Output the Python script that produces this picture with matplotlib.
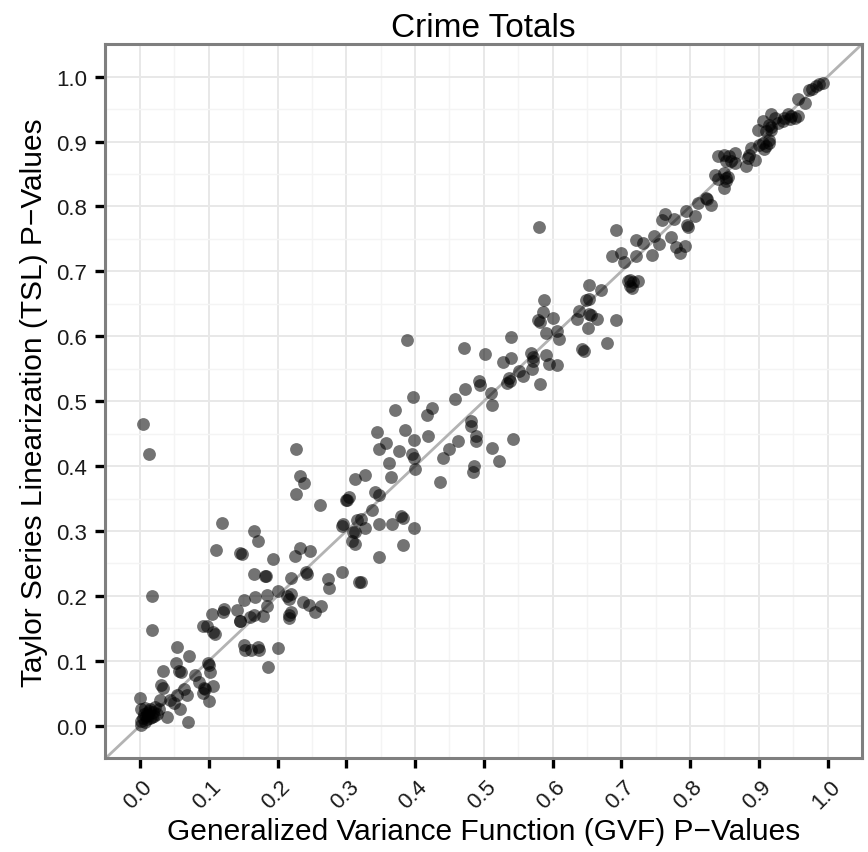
import matplotlib
matplotlib.use("Agg")
import matplotlib.pyplot as plt
import matplotlib.transforms as mtransforms
import numpy as np

plt.rcParams['font.family'] = ['Liberation Sans', 'DejaVu Sans']

# GVF p-values (x) and TSL p-values (y)
gvf = [0.262, 0.300, 0.119, 0.166, 0.171, 0.295, 0.294, 0.110, 0.145, 0.148,
       0.193, 0.232, 0.226, 0.247, 0.309, 0.308, 0.312, 0.316, 0.319, 0.293,
       0.273, 0.275, 0.166, 0.181, 0.183, 0.242, 0.243, 0.219, 0.201, 0.185,
       0.167, 0.151, 0.213, 0.216, 0.220, 0.237, 0.245, 0.263, 0.254, 0.184,
       0.017, 0.018, 0.105, 0.120, 0.122, 0.141, 0.145, 0.146, 0.160, 0.166,
       0.179, 0.091, 0.098, 0.106, 0.109, 0.216, 0.217, 0.220, 0.151, 0.153,
       0.162, 0.171, 0.173, 0.200, 0.186, 0.053, 0.071, 0.052, 0.034, 0.057,
       0.059, 0.099, 0.100, 0.102, 0.080, 0.086, 0.106, 0.093, 0.094, 0.091,
       0.100, 0.030, 0.034, 0.064, 0.068, 0.053, 0.043, 0.049, 0.058, 0.039,
       0.070, 0.029, 0.000, 0.001, 0.007, 0.014, 0.022, 0.024, 0.017, 0.010,
       0.002, 0.001, 0.012, 0.005, 0.019, 0.007, 0.028, 0.010, 0.015, 0.020,
       0.004, 0.013, 0.008, 0.004, 0.013,
       0.388, 0.397, 0.371, 0.424, 0.418, 0.458, 0.345, 0.357, 0.348, 0.386,
       0.398, 0.419, 0.377, 0.395, 0.398, 0.400, 0.450, 0.440, 0.463, 0.436,
       0.362, 0.365, 0.227, 0.233, 0.239, 0.227, 0.313, 0.327, 0.342, 0.348,
       0.301, 0.304, 0.337, 0.322, 0.313, 0.327, 0.348, 0.366, 0.379, 0.383,
       0.399, 0.383, 0.348, 0.322,
       0.580, 0.692, 0.686, 0.700, 0.704, 0.721, 0.722, 0.712, 0.717, 0.716,
       0.671, 0.653, 0.648, 0.653, 0.639, 0.635, 0.653, 0.656, 0.665, 0.651,
       0.692, 0.679, 0.643, 0.645, 0.588, 0.586, 0.579, 0.581, 0.601, 0.591,
       0.607, 0.609, 0.539, 0.471, 0.502, 0.528, 0.540, 0.568, 0.571, 0.572,
       0.590, 0.595, 0.607, 0.570, 0.582, 0.551, 0.557, 0.536, 0.534, 0.538,
       0.510, 0.512, 0.493, 0.494, 0.472, 0.481, 0.481, 0.488, 0.489, 0.485,
       0.484, 0.512, 0.522, 0.543,
       0.732, 0.745, 0.748, 0.755, 0.763, 0.759, 0.772, 0.777, 0.780, 0.785,
       0.792, 0.794, 0.797, 0.795, 0.807, 0.812, 0.823, 0.824, 0.831, 0.837,
       0.840, 0.840, 0.849, 0.853, 0.865, 0.860, 0.865, 0.850, 0.852, 0.850,
       0.853, 0.882, 0.884, 0.894, 0.889, 0.901, 0.906, 0.908, 0.915, 0.899,
       0.911, 0.918, 0.710, 0.725, 0.712,
       0.993, 0.988, 0.983, 0.978, 0.973, 0.957, 0.967, 0.942, 0.947, 0.937,
       0.935, 0.957, 0.952, 0.945, 0.918, 0.923, 0.906, 0.915, 0.918, 0.928,
       0.911, 0.915, 0.886, 0.857, 0.855]

tsl = [0.340, 0.347, 0.313, 0.300, 0.285, 0.311, 0.307, 0.270, 0.266, 0.264,
       0.257, 0.274, 0.262, 0.269, 0.298, 0.284, 0.280, 0.317, 0.221, 0.237,
       0.226, 0.212, 0.234, 0.231, 0.230, 0.237, 0.234, 0.227, 0.207, 0.202,
       0.198, 0.193, 0.200, 0.196, 0.203, 0.190, 0.186, 0.185, 0.175, 0.185,
       0.200, 0.148, 0.172, 0.175, 0.180, 0.178, 0.162, 0.161, 0.167, 0.170,
       0.169, 0.154, 0.153, 0.144, 0.142, 0.170, 0.166, 0.175, 0.124, 0.117,
       0.116, 0.121, 0.117, 0.119, 0.091, 0.122, 0.108, 0.096, 0.085, 0.084,
       0.082, 0.097, 0.093, 0.082, 0.078, 0.068, 0.061, 0.058, 0.056, 0.050,
       0.038, 0.062, 0.058, 0.057, 0.048, 0.047, 0.040, 0.035, 0.025, 0.014,
       0.006, 0.039, 0.043, 0.025, 0.028, 0.026, 0.029, 0.018, 0.013, 0.010,
       0.008, 0.001, 0.017, 0.018, 0.021, 0.005, 0.025, 0.020, 0.012, 0.015,
       0.012, 0.022, 0.015, 0.465, 0.418,
       0.594, 0.507, 0.487, 0.489, 0.478, 0.503, 0.453, 0.436, 0.426, 0.456,
       0.440, 0.446, 0.423, 0.418, 0.413, 0.395, 0.426, 0.412, 0.439, 0.376,
       0.405, 0.383, 0.426, 0.384, 0.374, 0.357, 0.380, 0.386, 0.360, 0.356,
       0.348, 0.352, 0.332, 0.318, 0.299, 0.305, 0.311, 0.311, 0.323, 0.320,
       0.305, 0.279, 0.260, 0.222,
       0.768, 0.764, 0.724, 0.728, 0.715, 0.749, 0.724, 0.687, 0.683, 0.675,
       0.671, 0.679, 0.656, 0.657, 0.639, 0.626, 0.635, 0.633, 0.626, 0.612,
       0.625, 0.590, 0.580, 0.577, 0.656, 0.637, 0.625, 0.622, 0.628, 0.605,
       0.608, 0.596, 0.599, 0.582, 0.572, 0.561, 0.567, 0.574, 0.568, 0.562,
       0.571, 0.557, 0.555, 0.549, 0.526, 0.547, 0.539, 0.535, 0.528, 0.531,
       0.513, 0.494, 0.531, 0.525, 0.519, 0.470, 0.462, 0.447, 0.439, 0.400,
       0.391, 0.428, 0.408, 0.442,
       0.744, 0.726, 0.755, 0.742, 0.789, 0.779, 0.753, 0.781, 0.738, 0.728,
       0.739, 0.793, 0.769, 0.772, 0.785, 0.805, 0.813, 0.811, 0.802, 0.849,
       0.842, 0.878, 0.880, 0.870, 0.882, 0.870, 0.867, 0.852, 0.844, 0.828,
       0.839, 0.862, 0.875, 0.872, 0.890, 0.895, 0.898, 0.888, 0.898, 0.918,
       0.916, 0.918, 0.685, 0.685, 0.677,
       0.990, 0.988, 0.985, 0.981, 0.979, 0.965, 0.960, 0.942, 0.939, 0.937,
       0.931, 0.939, 0.937, 0.934, 0.942, 0.937, 0.931, 0.926, 0.923, 0.929,
       0.893, 0.903, 0.880, 0.877, 0.846]

ticks = np.arange(0, 1.01, 0.1)
tick_labels = ["0.0", "0.1", "0.2", "0.3", "0.4", "0.5", "0.6", "0.7", "0.8", "0.9", "1.0"]

fig = plt.figure(figsize=(8.68, 8.53), dpi=100)
ax = fig.add_axes([0.121, 0.110, 0.872, 0.837])

ax.scatter(gvf, tsl, s=85, c='black', alpha=0.55, linewidths=0, zorder=3)
ax.axline((0, 0), slope=1, color='#b3b3b3', lw=2, zorder=2)

ax.set_xlim(-0.051, 1.046)
ax.set_ylim(-0.049, 1.049)

ax.set_xticks(ticks)
ax.set_xticklabels(tick_labels)
ax.set_yticks(ticks)
ax.set_yticklabels(tick_labels)
ax.set_xticks(np.arange(-0.05, 1.06, 0.1), minor=True)
ax.set_yticks(np.arange(-0.05, 1.06, 0.1), minor=True)

ax.grid(which='major', color='#e8e8e8', lw=1.4, zorder=0)
ax.grid(which='minor', color='#f4f4f4', lw=1.0, zorder=0)
ax.set_axisbelow(True)

ax.tick_params(which='major', length=7, width=2.4, color='black',
               labelsize=16, labelcolor='#1a1a1a')
ax.tick_params(axis='y', pad=6)
ax.tick_params(axis='x', pad=6)
ax.tick_params(which='minor', length=0)

# rotated x tick labels
offset = mtransforms.ScaledTranslation(2 / 100, 0, fig.dpi_scale_trans)
for lab in ax.get_xticklabels():
    lab.set_rotation(45)
    lab.set_ha('right')
    lab.set_va('top')
    lab.set_rotation_mode('anchor')
    lab.set_transform(lab.get_transform() + offset)

for sp in ax.spines.values():
    sp.set_color('#7f7f7f')
    sp.set_linewidth(2.2)

ax.set_title("Crime Totals", fontsize=24, pad=6)
ax.set_xlabel("Generalized Variance Function (GVF) P\u2212Values", fontsize=21.5, labelpad=3)
ax.set_ylabel("Taylor Series Linearization (TSL) P\u2212Values", fontsize=21.5, labelpad=6)

fig.savefig("out.png", dpi=100)
